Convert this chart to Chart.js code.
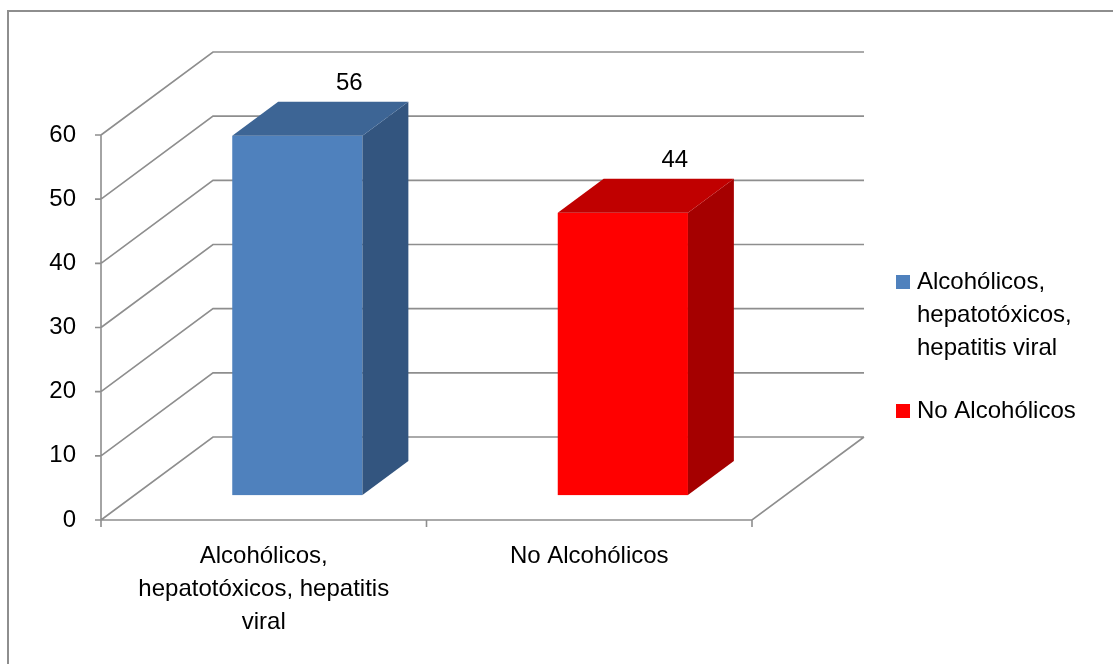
<!DOCTYPE html>
<html lang="es">
<head>
<meta charset="UTF-8">
<title>Alcohólicos / No Alcohólicos</title>
<script src="https://cdn.jsdelivr.net/npm/chart.js@4/dist/chart.umd.min.js"></script>
<style>
html, body { margin: 0; padding: 0; background: #fff; }
canvas { display: block; }
</style>
</head>
<body>
<canvas id="grafico" width="1113" height="664"></canvas>
<script>
// datos
const categorias = ['Alcohólicos, hepatotóxicos, hepatitis viral', 'No Alcohólicos'];
const etiquetasEje = [['Alcohólicos,', 'hepatotóxicos, hepatitis', 'viral'], ['No Alcohólicos']];
const etiquetasLeyenda = [['Alcohólicos,', 'hepatotóxicos,', 'hepatitis viral'], ['No Alcohólicos']];
const valores = [56, 44];
const marcasY = [0, 10, 20, 30, 40, 50, 60];

// colores de cada cara de las barras
const coloresFrente = ['#4F81BD', '#FF0000'];
const coloresArriba = ['#3D6595', '#C00000'];
const coloresLado = ['#33557F', '#A50000'];

const FUENTE = '"Liberation Sans", Arial, sans-serif';
const GRIS = '#8e8e8e';
const FONDO_X = 112, FONDO_Y = 83;      // desplazamiento de la pared del fondo
const PROF_INI = 0.3, PROF_FIN = 0.71;  // posicion de las barras en profundidad

const efecto3d = {
    id: 'efecto3d',
    beforeDatasetsDraw(chart) {
        const ctx = chart.ctx;
        const x = chart.scales.x, y = chart.scales.y;
        const izq = x.left, der = x.right;
        const base = y.getPixelForValue(0);

        ctx.save();
        // marco exterior
        ctx.strokeStyle = GRIS;
        ctx.lineWidth = 2;
        ctx.strokeRect(8, 11, 1200, 700);

        ctx.lineWidth = 1.6;
        ctx.strokeStyle = GRIS;
        ctx.beginPath();
        // lineas de division: pared lateral y pared del fondo
        marcasY.forEach(v => {
            const py = y.getPixelForValue(v);
            ctx.moveTo(izq, py);
            ctx.lineTo(izq + FONDO_X, py - FONDO_Y);
            ctx.lineTo(der + FONDO_X, py - FONDO_Y);
            // marca del eje vertical
            ctx.moveTo(izq - 6, py);
            ctx.lineTo(izq, py);
        });
        // eje vertical
        ctx.moveTo(izq, y.getPixelForValue(marcasY[marcasY.length - 1]));
        ctx.lineTo(izq, base);
        // borde frontal y derecho del piso
        ctx.moveTo(izq, base);
        ctx.lineTo(der, base);
        ctx.lineTo(der + FONDO_X, base - FONDO_Y);
        // marcas del eje horizontal
        const paso = (der - izq) / categorias.length;
        for (let i = 0; i <= categorias.length; i++) {
            const px = izq + paso * i;
            ctx.moveTo(px, base);
            ctx.lineTo(px, base + 7);
        }
        ctx.stroke();
        ctx.restore();
    },
    afterDatasetsDraw(chart) {
        const ctx = chart.ctx;
        const y = chart.scales.y;
        const meta = chart.getDatasetMeta(0);
        const ox = FONDO_X * PROF_INI, oy = -FONDO_Y * PROF_INI;
        const dx = FONDO_X * (PROF_FIN - PROF_INI), dy = -FONDO_Y * (PROF_FIN - PROF_INI);

        ctx.save();
        meta.data.forEach((barra, i) => {
            const { x, width } = barra.getProps(['x', 'width'], true);
            const l = x - width / 2 + ox, r = x + width / 2 + ox;
            const t = y.getPixelForValue(valores[i]) + oy;
            const b = y.getPixelForValue(0) + oy;

            ctx.fillStyle = coloresFrente[i];
            ctx.fillRect(l, t, r - l, b - t);

            ctx.fillStyle = coloresLado[i];
            ctx.beginPath();
            ctx.moveTo(r, t);
            ctx.lineTo(r + dx, t + dy);
            ctx.lineTo(r + dx, b + dy);
            ctx.lineTo(r, b);
            ctx.closePath();
            ctx.fill();

            ctx.fillStyle = coloresArriba[i];
            ctx.beginPath();
            ctx.moveTo(l, t);
            ctx.lineTo(r, t);
            ctx.lineTo(r + dx, t + dy);
            ctx.lineTo(l + dx, t + dy);
            ctx.closePath();
            ctx.fill();

            // etiqueta con el valor
            ctx.fillStyle = '#000';
            ctx.font = '24px ' + FUENTE;
            ctx.textAlign = 'center';
            ctx.textBaseline = 'alphabetic';
            ctx.fillText(String(valores[i]), x + ox + dx + 6, t + dy - 12);
        });

        // leyenda
        ctx.font = '24px ' + FUENTE;
        ctx.textAlign = 'left';
        ctx.textBaseline = 'alphabetic';
        let linea = 289;
        etiquetasLeyenda.forEach((lineas, i) => {
            ctx.fillStyle = coloresFrente[i];
            ctx.fillRect(896, linea - 14, 14, 14);
            ctx.fillStyle = '#000';
            lineas.forEach((txt, k) => {
                ctx.fillText(txt, 917, linea + k * 33);
            });
            linea += (lineas.length - 1) * 33 + 63;
        });
        ctx.restore();
    }
};

new Chart(document.getElementById('grafico'), {
    type: 'bar',
    data: {
        labels: etiquetasEje,
        datasets: [{
            label: 'Pacientes',
            data: valores,
            backgroundColor: 'rgba(0,0,0,0)',
            borderWidth: 0,
            categoryPercentage: 1,
            barPercentage: 0.4
        }]
    },
    options: {
        responsive: false,
        animation: false,
        layout: { padding: { top: 135, right: 361, bottom: 0, left: 0 } },
        plugins: {
            legend: { display: false },
            tooltip: { enabled: false }
        },
        scales: {
            x: {
                grid: { display: false, drawTicks: false },
                border: { display: false },
                ticks: {
                    color: '#000',
                    padding: 20,
                    maxRotation: 0,
                    autoSkip: false,
                    font: { family: FUENTE, size: 24, lineHeight: 1.375 }
                },
                afterFit(scale) { scale.height = 144; }
            },
            y: {
                min: 0,
                max: 60,
                grid: { display: false, drawTicks: false },
                border: { display: false },
                ticks: {
                    color: '#000',
                    stepSize: 10,
                    padding: 25,
                    font: { family: FUENTE, size: 24 }
                },
                afterFit(scale) { scale.width = 101; }
            }
        }
    },
    plugins: [efecto3d]
});
</script>
</body>
</html>
